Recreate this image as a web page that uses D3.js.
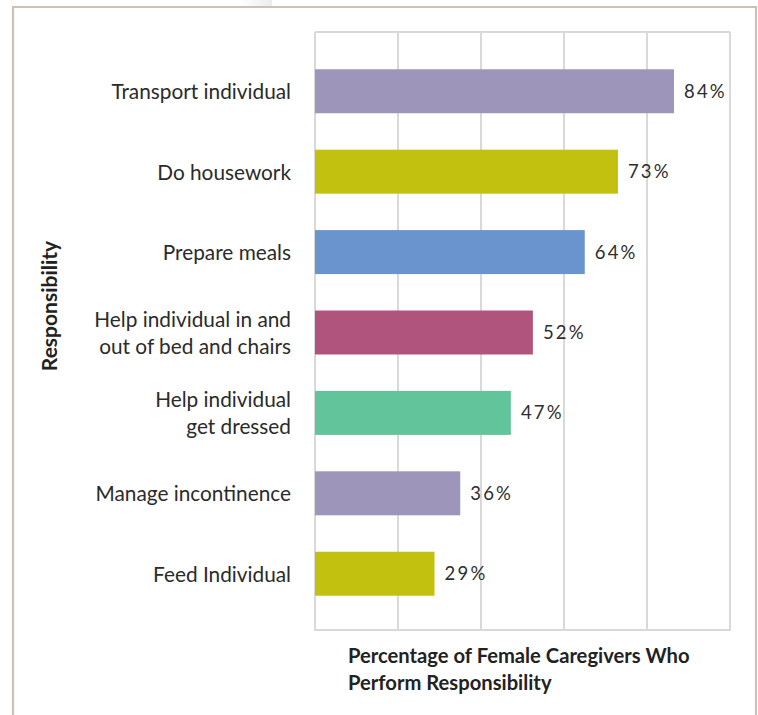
<!DOCTYPE html>
<html>
<head>
<meta charset="utf-8">
<script src="https://cdn.jsdelivr.net/npm/d3@7"></script>
<style>
  html, body { margin: 0; padding: 0; background: #fff; }
  svg { display: block; }
</style>
</head>
<body>
<svg id="chart" width="758" height="715"></svg>
<script>
// ---- data ----
const categories = [
  "Transport individual",
  "Do housework",
  "Prepare meals",
  "Help individual in and\nout of bed and chairs",
  "Help individual\nget dressed",
  "Manage incontinence",
  "Feed Individual"
];
// bar lengths as drawn in the picture (percent)
const barValues = [86.5, 73, 65, 52.5, 47.2, 35, 28.8];
// printed value labels
const valueLabels = ["84%", "73%", "64%", "52%", "47%", "36%", "29%"];
const barColors = ["#9d96ba", "#c3c10f", "#6a94cd", "#b0537d", "#62c49b", "#9d96ba", "#c3c10f"];
const xTicks = [0, 20, 40, 60, 80, 100];
const xTitle = ["Percentage of Female Caregivers Who", "Perform Responsibility"];
const yTitle = "Responsibility";

// ---- layout ----
const svg = d3.select("#chart");
const plot = { left: 315, right: 730, top: 32, bottom: 630 };
const labelFont = "Lato, 'Open Sans', sans-serif";

const x = d3.scaleLinear().domain([0, 100]).range([plot.left, plot.right]);
const y = d3.scaleBand().domain(categories).range([plot.top + 1.5, plot.bottom + 1.5])
  .paddingInner(0.453).paddingOuter(0.445);

// outer frame
const defs = svg.append("defs");
const grad = defs.append("linearGradient").attr("id", "shade").attr("x1", 0).attr("x2", 1);
grad.append("stop").attr("offset", 0).attr("stop-color", "#fff");
grad.append("stop").attr("offset", 1).attr("stop-color", "#ececec");
svg.append("rect").attr("x", 240).attr("y", 0).attr("width", 32).attr("height", 6).attr("fill", "url(#shade)");
svg.append("path")
  .attr("d", "M13,715 L13,7 L756,7 L756,715")
  .attr("fill", "none").attr("stroke", "#c9c1ba").attr("stroke-width", 2.2);

// gridlines
svg.append("g").selectAll("line").data(xTicks).join("line")
  .attr("x1", d => x(d)).attr("x2", d => x(d))
  .attr("y1", plot.top).attr("y2", plot.bottom)
  .attr("stroke", "#d9d9d9").attr("stroke-width", 2);
svg.append("line")
  .attr("x1", plot.left).attr("x2", plot.right)
  .attr("y1", plot.top).attr("y2", plot.top)
  .attr("stroke", "#d9d9d9").attr("stroke-width", 2);
svg.append("line")
  .attr("x1", plot.left - 1).attr("x2", plot.right + 1)
  .attr("y1", plot.bottom).attr("y2", plot.bottom)
  .attr("stroke", "#d9d9d9").attr("stroke-width", 2);

// bars
svg.append("g").selectAll("rect").data(categories).join("rect")
  .attr("x", x(0))
  .attr("y", d => y(d))
  .attr("width", (d, i) => x(barValues[i]) - x(0))
  .attr("height", y.bandwidth())
  .attr("fill", (d, i) => barColors[i]);

// value labels
svg.append("g").selectAll("text").data(categories).join("text")
  .attr("x", (d, i) => x(barValues[i]) + 10)
  .attr("y", d => y(d) + y.bandwidth() / 2 + 6.5)
  .attr("font-family", labelFont)
  .attr("font-weight", 400)
  .attr("font-size", 18.5)
  .attr("letter-spacing", 2.2)
  .attr("fill", "#2e2e2e")
  .text((d, i) => valueLabels[i]);

// category labels
const catG = svg.append("g");
categories.forEach(c => {
  const lines = c.split("\n");
  const cy = y(c) + y.bandwidth() / 2;
  const t = catG.append("text")
    .attr("text-anchor", "end")
    .attr("font-family", labelFont)
    .attr("font-size", 20.8)
    .attr("fill", "#2b2b2b");
  lines.forEach((ln, j) => {
    t.append("tspan")
      .attr("x", 291)
      .attr("y", cy + 8 + (j - (lines.length - 1) / 2) * 27)
      .text(ln);
  });
});

// x title
const xt = svg.append("text")
  .attr("font-family", labelFont)
  .attr("font-weight", 700)
  .attr("font-size", 20.2)
  .attr("fill", "#222");
xTitle.forEach((ln, j) => {
  xt.append("tspan").attr("x", 348).attr("y", 663 + j * 27).text(ln);
});

// y title
svg.append("text")
  .attr("transform", "translate(57,306) rotate(-90)")
  .attr("text-anchor", "middle")
  .attr("font-family", labelFont)
  .attr("font-weight", 700)
  .attr("font-size", 21)
  .attr("fill", "#222")
  .text(yTitle);
</script>
</body>
</html>
